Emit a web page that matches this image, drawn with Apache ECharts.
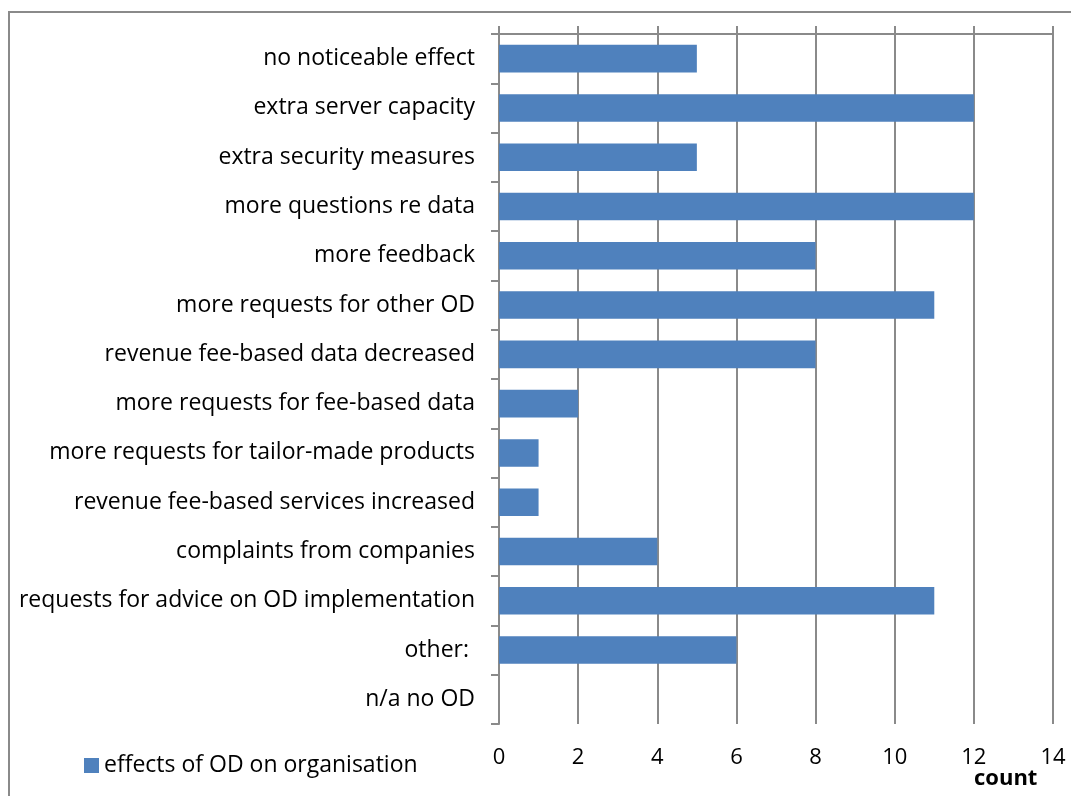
<!DOCTYPE html>
<html><head><meta charset="utf-8">
<script src="https://cdn.jsdelivr.net/npm/echarts@6/dist/echarts.min.js"></script>
<style>html,body{margin:0;padding:0;background:#fff}#c{width:1071px;height:796px}</style>
</head><body><div id="c"></div>
<script>
const categories = [
  "no noticeable effect",
  "extra server capacity",
  "extra security measures",
  "more questions re data",
  "more feedback",
  "more requests for other OD",
  "revenue fee-based data decreased",
  "more requests for fee-based data",
  "more requests for tailor-made products",
  "revenue fee-based services increased",
  "complaints from companies",
  "requests for advice on OD implementation",
  "other: ",
  "n/a no OD"
];
const counts = [5, 12, 5, 12, 8, 11, 8, 2, 1, 1, 4, 11, 6, 0];
const seriesName = "effects of OD on organisation";
const axisName = "count";

const FONT = "'Open Sans', 'Noto Sans', sans-serif";
const GRAY = '#8a8a8a';
const chart = echarts.init(document.getElementById('c'), null, {renderer: 'canvas'});
chart.setOption({
  animation: false,
  backgroundColor: '#fff',
  grid: {left: 499, top: 34, right: 18, bottom: 72, containLabel: false},
  legend: {
    data: [seriesName], left: 79, top: 749, icon: 'rect', itemWidth: 15, itemHeight: 15, itemGap: 6,
    textStyle: {fontFamily: FONT, fontSize: 23, color: '#000'}
  },
  xAxis: [
    {type: 'value', position: 'top', min: 0, max: 14, interval: 2,
     axisLine: {show: true, lineStyle: {color: GRAY, width: 2}},
     axisTick: {show: true, length: 8, lineStyle: {color: GRAY, width: 2}},
     axisLabel: {show: false},
     splitLine: {show: true, lineStyle: {color: GRAY, width: 2}}},
    {type: 'value', position: 'bottom', min: 0, max: 14, interval: 2,
     axisLine: {show: false}, axisTick: {show: false}, splitLine: {show: false},
     axisLabel: {show: true, margin: 23, fontFamily: FONT, fontSize: 22, color: '#000'}}
  ],
  yAxis: {
    type: 'category', data: categories, inverse: true,
    axisLine: {show: true, lineStyle: {color: GRAY, width: 2}},
    axisTick: {show: true, length: 8, lineStyle: {color: GRAY, width: 2}},
    axisLabel: {margin: 24, padding: [4, 0, 0, 0], fontFamily: FONT, fontSize: 23, color: '#000'}
  },
  series: [{
    name: seriesName, type: 'bar', data: counts, xAxisIndex: 0,
    barCategoryGap: '44%', itemStyle: {color: '#4f81bd'}
  }],
  graphic: [
    {type: 'rect', shape: {x: 9, y: 12, width: 1100, height: 900}, style: {fill: 'none', stroke: GRAY, lineWidth: 2}, silent: true},
    {type: 'text', left: 974, top: 768, style: {text: axisName, font: "bold 22px 'Open Sans', sans-serif", fill: '#000'}}
  ]
});
</script></body></html>
